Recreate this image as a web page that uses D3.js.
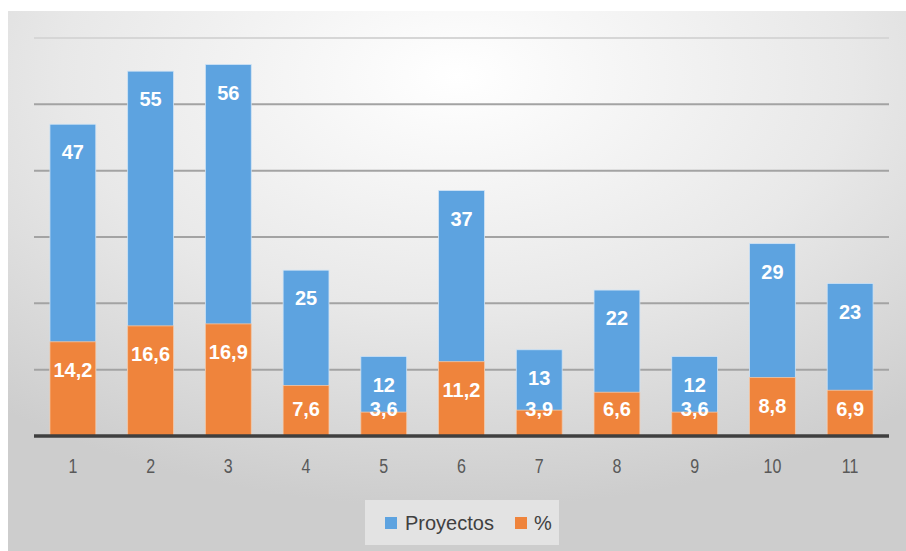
<!DOCTYPE html>
<html>
<head>
<meta charset="utf-8">
<script src="https://cdn.jsdelivr.net/npm/d3@7"></script>
<style>
  html, body { margin: 0; padding: 0; background: #ffffff; }
  svg { display: block; }
</style>
</head>
<body>
<svg id="chart" width="906" height="551"></svg>
<script>
const categories = ["1","2","3","4","5","6","7","8","9","10","11"];
const proyectos = [47, 55, 56, 25, 12, 37, 13, 22, 12, 29, 23];
const porcentaje = [14.2, 16.6, 16.9, 7.6, 3.6, 11.2, 3.9, 6.6, 3.6, 8.8, 6.9];
const yTicks = [0, 10, 20, 30, 40, 50, 60];
const seriesNames = ["Proyectos", "%"];
const colors = ["#5DA3E0", "#EF843C"];

const svg = d3.select("#chart");
const W = 906, H = 551;

// background with radial gradient
const defs = svg.append("defs");
const grad = defs.append("radialGradient")
  .attr("id", "bg").attr("cx", "50%").attr("cy", "12%").attr("r", "80%")
  .attr("fx", "50%").attr("fy", "12%");
grad.append("stop").attr("offset", "0%").attr("stop-color", "#ffffff");
grad.append("stop").attr("offset", "55%").attr("stop-color", "#e8e8e8");
grad.append("stop").attr("offset", "100%").attr("stop-color", "#cdcdcd");
svg.append("rect").attr("x", 8).attr("y", 11).attr("width", W - 8).attr("height", H - 11)
  .attr("fill", "url(#bg)");

const x = d3.scaleBand().domain(categories).range([34, 889]).paddingInner(0.41).paddingOuter(0.205);
const y = d3.scaleLinear().domain([0, 60]).range([436, 38]);

// gridlines
svg.append("g").selectAll("line").data(yTicks.filter(t => t > 0)).join("line")
  .attr("x1", 34).attr("x2", 889)
  .attr("y1", d => y(d)).attr("y2", d => y(d))
  .attr("stroke", d => d === 60 ? "#d6d6d6" : "#a3a3a3")
  .attr("stroke-width", 2);

const fmt = v => String(v).replace(".", ",");

// blue bars (Proyectos)
svg.append("g").selectAll("rect").data(categories).join("rect")
  .attr("x", (d) => x(d))
  .attr("width", x.bandwidth())
  .attr("y", (d, i) => y(proyectos[i]))
  .attr("height", (d, i) => y(0) - y(proyectos[i]))
  .attr("fill", colors[0])
  .attr("stroke", "#cfe3f5").attr("stroke-width", 0.8);

// orange bars (%)
svg.append("g").selectAll("rect").data(categories).join("rect")
  .attr("x", (d) => x(d))
  .attr("width", x.bandwidth())
  .attr("y", (d, i) => y(porcentaje[i]))
  .attr("height", (d, i) => y(0) - y(porcentaje[i]))
  .attr("fill", colors[1])
  .attr("stroke", "#f7c7a3").attr("stroke-width", 0.8);

// labels
const lblFont = "'Liberation Sans', Arial, sans-serif";
svg.append("g").selectAll("text").data(categories).join("text")
  .attr("x", d => x(d) + x.bandwidth() / 2)
  .attr("y", (d, i) => y(proyectos[i]) + 28)
  .attr("dy", "0.36em")
  .attr("text-anchor", "middle")
  .attr("fill", "#ffffff").attr("font-weight", "bold")
  .attr("font-family", lblFont).attr("font-size", 20)
  .text((d, i) => fmt(proyectos[i]));

svg.append("g").selectAll("text").data(categories).join("text")
  .attr("x", d => x(d) + x.bandwidth() / 2)
  .attr("y", (d, i) => Math.min(y(porcentaje[i]) + 28, 409))
  .attr("dy", "0.36em")
  .attr("text-anchor", "middle")
  .attr("fill", "#ffffff").attr("font-weight", "bold")
  .attr("font-family", lblFont).attr("font-size", 20)
  .text((d, i) => fmt(porcentaje[i]));

// x axis
const xAxis = svg.append("g").attr("transform", `translate(0,${y(0)})`)
  .call(d3.axisBottom(x).tickSize(0).tickPadding(0));
xAxis.select(".domain").attr("stroke", "#3f3f3f").attr("stroke-width", 3.5)
  .attr("d", "M34,0H889");
xAxis.selectAll(".tick text")
  .attr("y", 0).attr("dy", 0)
  .attr("font-family", lblFont).attr("font-size", 16)
  .attr("fill", "#595959")
  .attr("transform", "translate(0,37) scale(1,1.25)");

// legend
const lg = svg.append("g");
lg.append("rect").attr("x", 365).attr("y", 500).attr("width", 194).attr("height", 45)
  .attr("fill", "#e6e6e6").attr("opacity", 0.9);
const legendItems = [
  { name: seriesNames[0], color: colors[0], sx: 385, tx: 405 },
  { name: seriesNames[1], color: colors[1], sx: 515, tx: 534 }
];
legendItems.forEach(it => {
  lg.append("rect").attr("x", it.sx).attr("y", 517).attr("width", 12).attr("height", 12)
    .attr("fill", it.color);
  lg.append("text").attr("x", it.tx).attr("y", 523).attr("dy", "0.36em")
    .attr("font-family", lblFont).attr("font-size", 20).attr("fill", "#404040")
    .text(it.name);
});
</script>
</body>
</html>
